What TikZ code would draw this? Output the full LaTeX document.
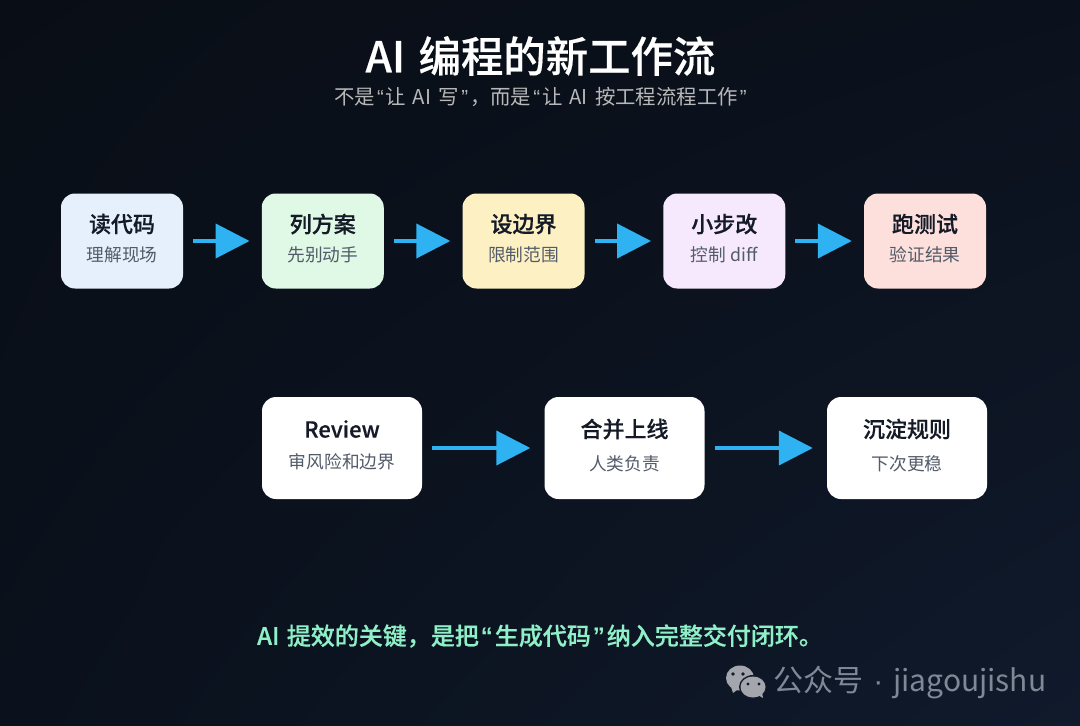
\documentclass[tikz,border=0pt]{standalone}
\usepackage{fontspec}
\setmainfont[BoldFont={Noto Sans CJK SC Medium},BoldFeatures={FakeBold=0.45}]{Noto Sans CJK SC}
\newfontfamily\quotefont{Liberation Sans}
\usetikzlibrary{arrows.meta,positioning,shadings}

\definecolor{cardblue}{HTML}{E6F0FD}
\definecolor{cardgreen}{HTML}{E0F8E6}
\definecolor{cardyellow}{HTML}{FDF1C4}
\definecolor{cardpurple}{HTML}{F6E8FD}
\definecolor{cardpink}{HTML}{FDE0DC}
\definecolor{inkdark}{HTML}{141A26}
\definecolor{inkgrey}{HTML}{525B69}
\definecolor{arrowblue}{HTML}{2FB2F2}
\definecolor{mintline}{HTML}{8FF0C8}
\definecolor{markgrey}{HTML}{7F8896}
\definecolor{bubblegrey}{HTML}{A4A6AE}
\definecolor{bubbledot}{HTML}{141A2A}
\definecolor{bgtl}{HTML}{090E16}
\definecolor{bgtr}{HTML}{0B111C}
\definecolor{bgbl}{HTML}{0A111C}
\definecolor{bgbr}{HTML}{101A2C}

\newcommand{\cardhead}[1]{{\bfseries\fontsize{22}{26}\selectfont\color{inkdark}#1}}
\newcommand{\cardnote}[1]{{\fontsize{17.7}{22}\selectfont\color{inkgrey}#1\rule[-7pt]{0pt}{7pt}}}
\newcommand{\qo}{\hspace{2pt}{\quotefont “}\hspace{2pt}}
\newcommand{\qc}{\hspace{2pt}{\quotefont ”}\hspace{2pt}}

\tikzset{
  card/.style={rounded corners=14pt,minimum width=122pt,minimum height=95pt,inner sep=0pt,align=center},
  widecard/.style={card,fill=white,minimum width=160pt,minimum height=102pt},
  flow/.style={-{Triangle[length=34pt,width=34pt]},arrowblue,line width=4pt},
}

\begin{document}
\begin{tikzpicture}[x=1pt,y=-1pt,node distance=200.75pt,on grid]
    \useasboundingbox (0,0) rectangle (1080,726);
    \shade[upper left=bgtl,upper right=bgtr,lower left=bgbl,lower right=bgbr]
      (0,0) rectangle (1080,726);

    \node[text=white,font=\bfseries\fontsize{42.4}{50}\selectfont] (heading) at (540.5,56) {AI\hspace{4pt} 编程的新工作流};
    \node[text=white!72!black,font=\fontsize{20.4}{24}\selectfont] (subheading) at (540.5,97) {不是\qo 让\hspace{2pt} AI\hspace{3pt} 写\qc ，而是\qo 让\hspace{2pt} AI\hspace{3pt} 按工程流程工作\qc};

    \node[card,fill=cardblue] (read) at (122,241) {\cardhead{读代码}\\[11pt]\cardnote{理解现场}};
    \node[card,fill=cardgreen] (plan) [right=of read] {\cardhead{列方案}\\[11pt]\cardnote{先别动手}};
    \node[card,fill=cardyellow] (limit) [right=of plan] {\cardhead{设边界}\\[11pt]\cardnote{限制范围}};
    \node[card,fill=cardpurple] (edit) [right=of limit] {\cardhead{小步改}\\[11pt]\cardnote{控制 diff}};
    \node[card,fill=cardpink] (test) [right=of edit] {\cardhead{跑测试}\\[11pt]\cardnote{验证结果}};

    \node[widecard] (review) at (342,448) {\cardhead{Review}\\[15pt]\cardnote{审风险和边界}};
    \node[widecard] (merge) [right=282.5pt of review] {\cardhead{合并上线}\\[15pt]\cardnote{人类负责}};
    \node[widecard] (rules) [right=282.5pt of merge] {\cardhead{沉淀规则}\\[15pt]\cardnote{下次更稳}};

    \path[flow,shorten <=10pt,shorten >=12pt]
    (read) edge (plan)
    (plan) edge (limit)
    (limit) edge (edit)
    (edit) edge (test);

    \path[flow,shorten <=10pt,shorten >=14pt]
    (review) edge (merge)
    (merge) edge (rules);

    \node[text=mintline,font=\bfseries\fontsize{24}{28}\selectfont] (closing) at (540,636) {AI\hspace{2pt} 提效的关键，是把\qo 生成代码\qc 纳入完整交付闭环。};

    % wechat mark
    \fill[bubblegrey] (740,678) ellipse (14pt and 12.5pt);
    \fill[bubblegrey] (731,687) -- (737,690) -- (733,693) -- cycle;
    \fill[bubbledot] (733,674) circle (1.8pt) (743,674) circle (1.8pt);
    \fill[bubbledot] (753,687) ellipse (14pt and 12pt);
    \fill[bubblegrey] (753,687) ellipse (12.5pt and 10.5pt);
    \fill[bubblegrey] (758,695) -- (763,698) -- (762,692) -- cycle;
    \fill[bubbledot] (748,684) circle (1.6pt) (759,684) circle (1.6pt);
    \node[text=markgrey,font=\fontsize{30}{36}\selectfont] (account) at (910,683) {公众号\hspace{3pt} {\quotefont ·}\hspace{3pt} jiagoujishu};
\end{tikzpicture}
\end{document}
